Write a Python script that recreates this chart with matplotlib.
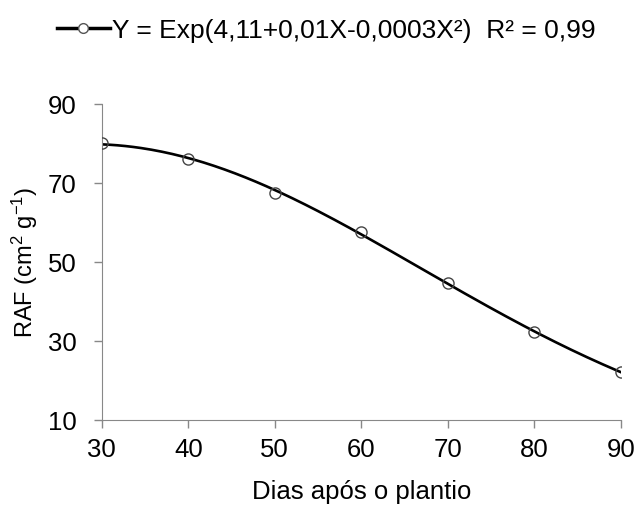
import matplotlib
matplotlib.use('Agg')
import matplotlib.pyplot as plt
import numpy as np

# Data
dias = [30, 40, 50, 60, 70, 80, 90]
raf = [80.1, 76.1, 67.6, 57.7, 44.7, 32.2, 22.2]
x_ticks = [30, 40, 50, 60, 70, 80, 90]
y_ticks = [10, 30, 50, 70, 90]
legend_label = 'Y = Exp(4,11+0,01X-0,0003X²)  R² = 0,99'

plt.rcParams['font.family'] = ['Liberation Sans', 'DejaVu Sans']
plt.rcParams['mathtext.default'] = 'regular'

fig = plt.figure(figsize=(6.4, 5.08), dpi=100)
ax = fig.add_axes([0.159, 0.173, 0.811, 0.622])

# exponential-quadratic trend fitted to the points
coef = np.polyfit(dias, np.log(raf), 2)
xs = np.linspace(min(dias), max(dias), 200)
ax.plot(xs, np.exp(np.polyval(coef, xs)), color='black', lw=1.9, zorder=2)
ax.plot(dias, raf, 'o', ms=8, mfc='none', mec='#444444', mew=1, zorder=3)

ax.set_xlim(30, 90)
ax.set_ylim(10, 90)
ax.set_xticks(x_ticks)
ax.set_yticks(y_ticks)
ax.tick_params(labelsize=18.5, color='#888888', length=6, width=1, direction='out')
ax.tick_params(axis='y', pad=12)
ax.tick_params(axis='x', pad=7)
for s in ['top', 'right']:
    ax.spines[s].set_visible(False)
for s in ['left', 'bottom']:
    ax.spines[s].set_color('#888888')
ax.set_xlabel('Dias após o plantio', fontsize=18.5, labelpad=13)
ax.set_ylabel('RAF (cm$^{2}$ g$^{-1}$)', fontsize=17, labelpad=6)

# legend entry at top
h, = ax.plot([], [], color='black', lw=2.5, marker='o', ms=7, mfc='white',
             mec='#555555', mew=1)
fig.legend([h], [legend_label], loc='upper center', bbox_to_anchor=(0.51, 1.01),
           frameon=False, fontsize=19, handlelength=2.0, handletextpad=0.1)

fig.savefig('out.png', dpi=100)
